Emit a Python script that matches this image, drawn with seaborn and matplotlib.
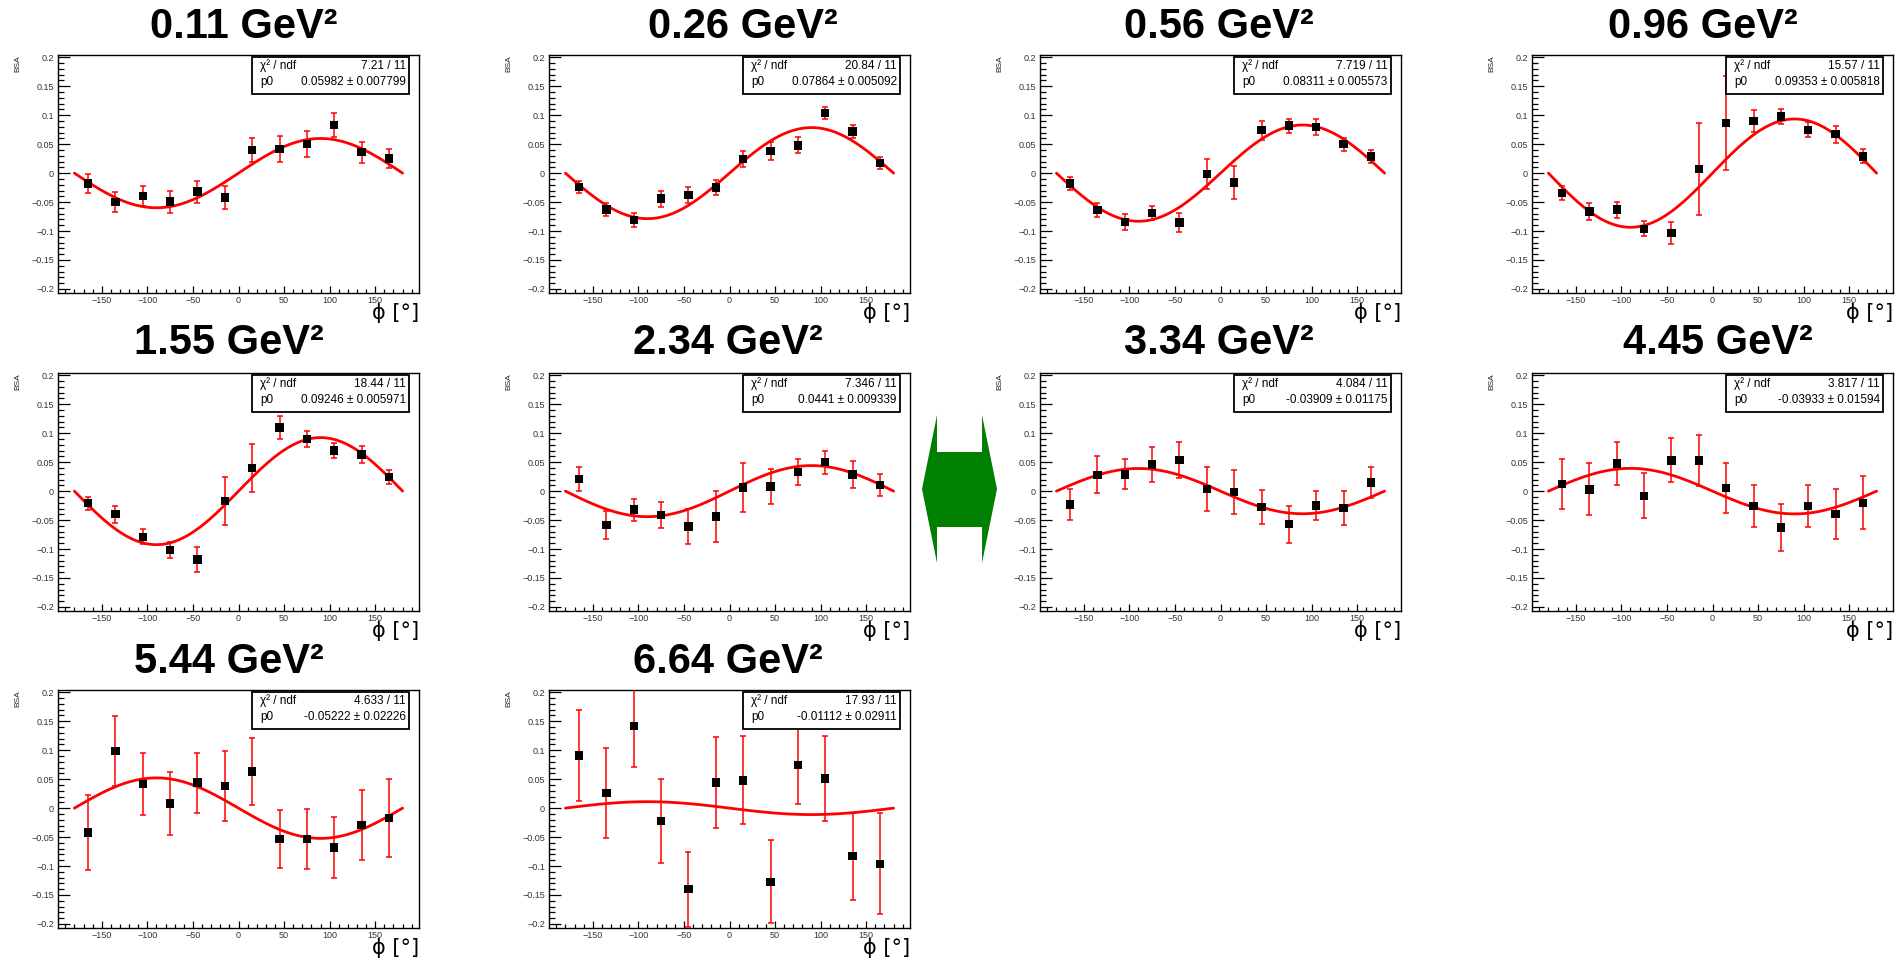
import numpy as np
import matplotlib
matplotlib.use('Agg')
import matplotlib.pyplot as plt
from matplotlib.patches import Polygon, Rectangle
from matplotlib.ticker import MultipleLocator, FuncFormatter
import seaborn as sns

# phi bin centres [deg]
phi = [-165, -135, -105, -75, -45, -15, 15, 45, 75, 105, 135, 165]

q2_titles = ['0.11 GeV²', '0.26 GeV²', '0.56 GeV²', '0.96 GeV²', '1.55 GeV²',
             '2.34 GeV²', '3.34 GeV²', '4.45 GeV²', '5.44 GeV²', '6.64 GeV²']

bsa_011 = [-0.018, -0.050, -0.040, -0.049, -0.032, -0.042, 0.040, 0.042, 0.050, 0.083, 0.036, 0.025]
err_011 = [0.017, 0.017, 0.017, 0.019, 0.019, 0.020, 0.021, 0.022, 0.022, 0.020, 0.018, 0.017]
bsa_026 = [-0.024, -0.063, -0.081, -0.044, -0.038, -0.025, 0.024, 0.038, 0.048, 0.104, 0.072, 0.017]
err_026 = [0.010, 0.011, 0.012, 0.014, 0.014, 0.013, 0.014, 0.015, 0.014, 0.011, 0.011, 0.010]
bsa_056 = [-0.018, -0.064, -0.084, -0.069, -0.085, -0.001, -0.016, 0.074, 0.082, 0.080, 0.050, 0.029]
err_056 = [0.011, 0.012, 0.014, 0.012, 0.017, 0.026, 0.029, 0.016, 0.012, 0.014, 0.011, 0.011]
bsa_096 = [-0.034, -0.066, -0.063, -0.096, -0.103, 0.007, 0.086, 0.090, 0.098, 0.075, 0.067, 0.029]
err_096 = [0.012, 0.015, 0.014, 0.013, 0.019, 0.080, 0.081, 0.019, 0.013, 0.013, 0.015, 0.012]
bsa_155 = [-0.021, -0.040, -0.079, -0.102, -0.118, -0.017, 0.040, 0.110, 0.090, 0.070, 0.063, 0.024]
err_155 = [0.011, 0.015, 0.013, 0.014, 0.021, 0.041, 0.042, 0.020, 0.013, 0.013, 0.015, 0.012]
bsa_234 = [0.021, -0.059, -0.032, -0.041, -0.061, -0.044, 0.006, 0.008, 0.033, 0.050, 0.029, 0.011]
err_234 = [0.020, 0.024, 0.019, 0.022, 0.030, 0.044, 0.042, 0.031, 0.023, 0.020, 0.023, 0.019]
bsa_334 = [-0.023, 0.028, 0.029, 0.046, 0.054, 0.004, -0.001, -0.027, -0.057, -0.025, -0.029, 0.015]
err_334 = [0.026, 0.032, 0.026, 0.031, 0.031, 0.038, 0.038, 0.029, 0.032, 0.025, 0.030, 0.027]
bsa_445 = [0.012, 0.003, 0.048, -0.008, 0.053, 0.053, 0.005, -0.026, -0.063, -0.026, -0.039, -0.020]
err_445 = [0.043, 0.045, 0.037, 0.039, 0.038, 0.044, 0.043, 0.036, 0.040, 0.036, 0.043, 0.046]
bsa_544 = [-0.042, 0.099, 0.042, 0.008, 0.044, 0.038, 0.063, -0.053, -0.053, -0.068, -0.029, -0.017]
err_544 = [0.064, 0.060, 0.053, 0.055, 0.052, 0.061, 0.058, 0.050, 0.052, 0.053, 0.061, 0.067]
bsa_664 = [0.091, 0.026, 0.142, -0.022, -0.140, 0.044, 0.048, -0.127, 0.074, 0.051, -0.083, -0.096]
err_664 = [0.079, 0.077, 0.071, 0.072, 0.065, 0.079, 0.076, 0.072, 0.067, 0.073, 0.075, 0.087]

# fit results p0*sin(phi), shown in the stat boxes
chi2 = [7.21, 20.84, 7.719, 15.57, 18.44, 7.346, 4.084, 3.817, 4.633, 17.93]
ndf = 11
p0 = [0.05982, 0.07864, 0.08311, 0.09353, 0.09246, 0.0441, -0.03909, -0.03933, -0.05222, -0.01112]
p0_err = [0.007799, 0.005092, 0.005573, 0.005818, 0.005971, 0.009339, 0.01175, 0.01594, 0.02226, 0.02911]

bsa = [bsa_011, bsa_026, bsa_056, bsa_096, bsa_155, bsa_234, bsa_334, bsa_445, bsa_544, bsa_664]
errs = [err_011, err_026, err_056, err_096, err_155, err_234, err_334, err_445, err_544, err_664]

# layout (pixels in the 1895x961 picture)
W, H = 1895, 961
col_left = [58, 549, 1040, 1532]
row_bottom = [293, 611, 928]
ax_w, ax_h = 361, 238
title_x = [244, 743, 1219, 1703, 229, 728, 1219, 1718, 229, 728]
title_y = [27, 343, 662]

sns.set_style('white')
plt.rcParams['font.family'] = ['Liberation Sans', 'DejaVu Sans']
plt.rcParams['text.color'] = 'black'

fig = plt.figure(figsize=(W / 100, H / 100), dpi=100)

def minus_fmt(v, pos):
    v = round(v, 6)
    if v == 0:
        return '0'
    return ('%g' % v).replace('-', '\u2212')

grid = np.linspace(-180, 180, 101)

for i in range(10):
    r, c = divmod(i, 4)
    ax = fig.add_axes([col_left[c] / W, 1 - row_bottom[r] / H, ax_w / W, ax_h / H])

    ax.errorbar(phi, bsa[i], yerr=errs[i], fmt='none', ecolor='red',
                elinewidth=1.1, capsize=2.2, capthick=1.1, zorder=3)
    sns.lineplot(x=grid, y=p0[i] * np.sin(np.radians(grid)), color='red',
                 lw=2.0, ax=ax, zorder=2)
    sns.scatterplot(x=phi, y=bsa[i], marker='s', color='black', s=36,
                    edgecolor='none', ax=ax, zorder=4, legend=False)

    ax.set_xlim(-198, 198)
    ax.set_ylim(-0.207, 0.204)
    ax.xaxis.set_major_locator(MultipleLocator(50))
    ax.xaxis.set_minor_locator(MultipleLocator(10))
    ax.yaxis.set_major_locator(MultipleLocator(0.05))
    ax.yaxis.set_minor_locator(MultipleLocator(0.01))
    ax.xaxis.set_major_formatter(FuncFormatter(minus_fmt))
    ax.yaxis.set_major_formatter(FuncFormatter(minus_fmt))
    ax.tick_params(axis='both', which='both', direction='in', labelsize=6.5,
                   labelcolor='#333333', color='black', width=0.9,
                   top=False, right=False, left=True, bottom=True)
    ax.tick_params(axis='y', which='major', length=8.5, pad=3)
    ax.tick_params(axis='y', which='minor', length=4)
    ax.tick_params(axis='x', which='major', length=5, pad=2.5)
    ax.tick_params(axis='x', which='minor', length=2.8)
    for s in ax.spines.values():
        s.set_color('black')
        s.set_linewidth(1.0)
    ax.set_xlabel('')
    ax.set_ylabel('')

    ax.text(-0.11, 1.0, 'BSA', transform=ax.transAxes, rotation=90,
            ha='center', va='top', fontsize=6, color='#222222')
    ax.text(1.0, -0.04, 'ϕ [°]', transform=ax.transAxes, ha='right',
            va='top', fontsize=15, family=['DejaVu Sans'])

    # stat box
    ax.add_patch(Rectangle((0.537, 0.835), 0.435, 0.155, transform=ax.transAxes,
                           facecolor='white', edgecolor='black', lw=1.3, zorder=6))
    ax.text(0.56, 0.955, 'χ² / ndf', transform=ax.transAxes, ha='left',
            va='center', fontsize=8.5, zorder=7)
    ax.text(0.963, 0.955, '%.4g / %d' % (chi2[i], ndf), transform=ax.transAxes,
            ha='right', va='center', fontsize=8.5, zorder=7)
    ax.text(0.56, 0.885, 'p0', transform=ax.transAxes, ha='left',
            va='center', fontsize=8.5, zorder=7)
    ax.text(0.963, 0.885, '%.4g ± %.4g' % (p0[i], p0_err[i]), transform=ax.transAxes,
            ha='right', va='center', fontsize=8.5, zorder=7)

    fig.text(title_x[i] / W, 1 - title_y[r] / H, q2_titles[i], ha='center',
             va='center', fontsize=30, fontweight='bold', color='black')

# green double arrow between 2.34 and 3.34 panels
arrow_px = [(922, 489), (937, 415), (937, 452), (982, 452), (982, 415),
            (997, 489), (982, 563), (982, 527), (937, 527), (937, 563)]
fig.patches.append(Polygon([(x / W, 1 - y / H) for x, y in arrow_px], closed=True,
                           transform=fig.transFigure, facecolor='#008000',
                           edgecolor='none'))

fig.savefig('out.png', dpi=100)
